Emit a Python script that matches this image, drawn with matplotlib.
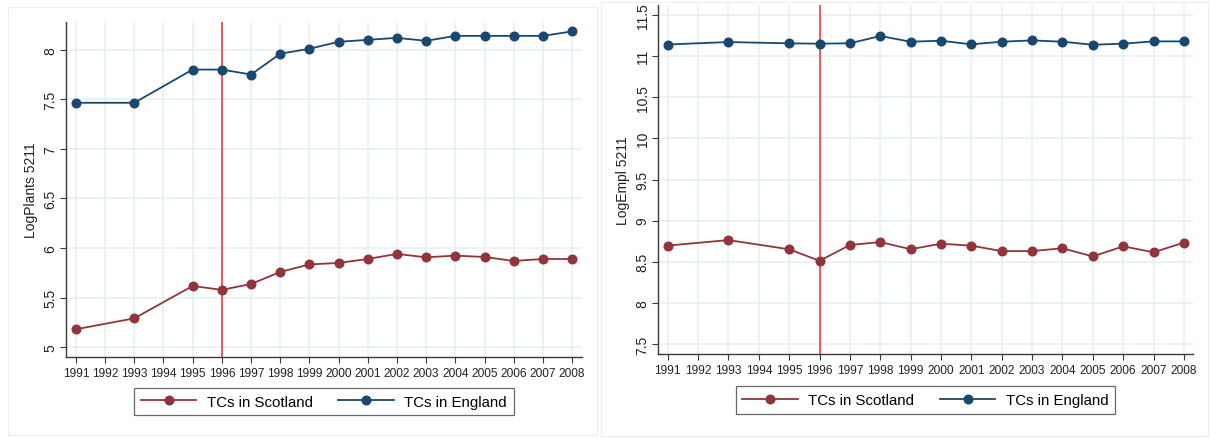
import matplotlib
matplotlib.use("Agg")
import matplotlib.pyplot as plt
from matplotlib.patches import Rectangle

plt.rcParams['font.family'] = ['Liberation Sans', 'DejaVu Sans']

years = [1991, 1993, 1995, 1996, 1997, 1998, 1999, 2000, 2001, 2002,
         2003, 2004, 2005, 2006, 2007, 2008]
tick_years = list(range(1991, 2009))

plants_scotland = [5.18, 5.29, 5.617, 5.577, 5.637, 5.758, 5.834, 5.849, 5.889,
                   5.94, 5.906, 5.923, 5.909, 5.869, 5.889, 5.889]
plants_england = [7.465, 7.465, 7.80, 7.80, 7.75, 7.96, 8.01, 8.08, 8.10, 8.12,
                  8.09, 8.14, 8.14, 8.14, 8.14, 8.185]

empl_scotland = [8.697, 8.764, 8.652, 8.512, 8.704, 8.74, 8.653, 8.72, 8.696,
                 8.63, 8.63, 8.665, 8.565, 8.688, 8.616, 8.733]
empl_england = [11.14, 11.17, 11.154, 11.15, 11.155, 11.243, 11.174, 11.186,
                11.142, 11.174, 11.19, 11.174, 11.137, 11.15, 11.178, 11.178]

plants_yticks = [5, 5.5, 6, 6.5, 7, 7.5, 8]
empl_yticks = [7.5, 8, 8.5, 9, 9.5, 10, 10.5, 11, 11.5]
treat_year = 1996

scot_color = '#90353b'
eng_color = '#1a476f'
grid_color = '#e6eff1'
spine_color = '#3a3a3a'

W, H = 1210, 439
fig = plt.figure(figsize=(W / 100, H / 100), dpi=100)
fig.patch.set_facecolor('white')

# panel frames
for (x0, y0, x1, y1) in [(8, 8, 597, 436), (601, 3, 1208, 437)]:
    fig.patches.append(Rectangle((x0 / W, 1 - y1 / H), (x1 - x0) / W, (y1 - y0) / H,
                                 transform=fig.transFigure, fill=False,
                                 edgecolor='#eeeeee', linewidth=0.8))

def fmt(v):
    return ('%g' % v)

def make_panel(rect, scot, eng, yticks, ylim, xlim, ylabel, legend_bbox):
    ax = fig.add_axes(rect)
    ax.set_xlim(*xlim)
    ax.set_ylim(*ylim)
    ax.set_xticks(tick_years)
    ax.set_xticklabels([str(y) for y in tick_years], fontsize=8.6, color='#222222')
    ax.set_yticks(yticks)
    ax.set_yticklabels([fmt(v) for v in yticks], fontsize=10, color='#222222',
                       rotation=90, va='center')
    ax.grid(True, color=grid_color, linewidth=1.1)
    ax.set_axisbelow(True)
    for s in ['top', 'right']:
        ax.spines[s].set_visible(False)
    for s in ['left', 'bottom']:
        ax.spines[s].set_color(spine_color)
        ax.spines[s].set_linewidth(1.0)
    ax.tick_params(axis='both', colors=spine_color, length=4, width=0.8,
                   labelcolor='#222222')
    ax.tick_params(axis='x', pad=3)
    ax.tick_params(axis='y', pad=2)
    ax.axvline(treat_year, color='#ee3030', linewidth=1.1, zorder=2)
    l1, = ax.plot(years, scot, color=scot_color, marker='o', markersize=6.2,
                  linewidth=1.3, label='TCs in Scotland', zorder=3)
    l2, = ax.plot(years, eng, color=eng_color, marker='o', markersize=6.2,
                  linewidth=1.3, label='TCs in England', zorder=3)
    ax.set_ylabel(ylabel, fontsize=10, color='#222222', labelpad=4)
    leg = ax.legend(handles=[l1, l2], loc='upper center', bbox_to_anchor=legend_bbox,
                    ncol=2, frameon=True, fontsize=10.8, fancybox=False,
                    edgecolor='#444444', handlelength=3.7, columnspacing=1.7,
                    borderpad=0.45, handletextpad=0.7, borderaxespad=0)
    leg.get_frame().set_linewidth(0.9)
    return ax

make_panel([66 / W, 1 - 358 / H, (582 - 66) / W, (358 - 23) / H],
           plants_scotland, plants_england, plants_yticks,
           (4.9, 8.28), (1990.66, 2008.34), 'LogPlants 5211', (0.5, -0.0925))

make_panel([658 / W, 1 - 355 / H, (1193 - 658) / W, (355 - 6) / H],
           empl_scotland, empl_england, empl_yticks,
           (7.38, 11.62), (1990.68, 2008.3), 'LogEmpl 5211', (0.5, -0.092))

fig.savefig('out.png', dpi=100, facecolor='white')
